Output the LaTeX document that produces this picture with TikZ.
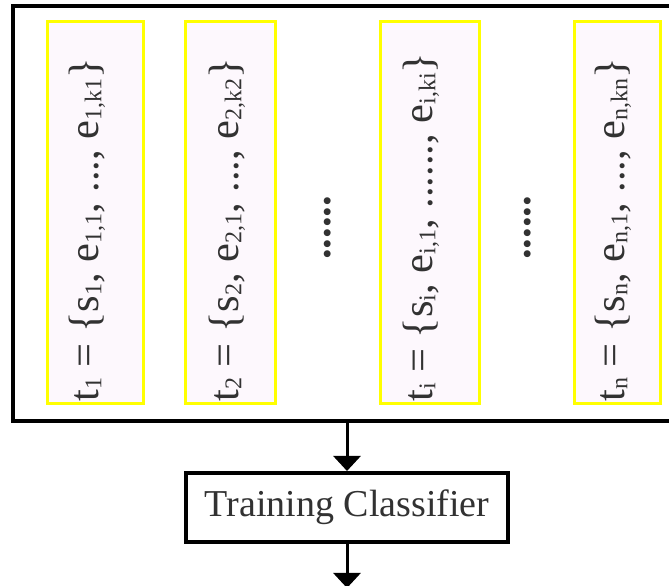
\documentclass[tikz,border=0pt]{standalone}
\usepackage{fontspec}
\setmainfont{Liberation Serif}
\usetikzlibrary{arrows.meta}
\definecolor{seqfill}{RGB}{253,248,253}
\definecolor{seqline}{RGB}{255,255,0}
\definecolor{txtgray}{RGB}{50,50,50}
\newcommand\subs[1]{\raisebox{-0.08em}{\fontsize{24}{24}\selectfont #1}}
\newcommand\bigfont{\fontsize{42.5}{50}\selectfont}

\begin{document}
\begin{tikzpicture}
[x=1pt,y=1pt,
 seq/.style={draw=seqline,line width=3pt,fill=seqfill,minimum height=382pt},
 seqtext/.style={rotate=90,anchor=base west,inner sep=0pt,text=txtgray,font=\bigfont},
 arr/.style={line width=3pt,-{Triangle[width=27pt,length=15pt]}}]
\fill[white] (0,0) rectangle (669,586);
\useasboundingbox (0,0) rectangle (669,586);
\node[draw,line width=4pt,minimum width=659pt,minimum height=415pt] (all) at (342.5,372.5) {};
\node[seq,minimum width=96pt] (b1) at (95,373) {};
\node[seq,minimum width=90pt] (b2) at (230,373) {};
\node[seq,minimum width=99pt] (bi) at (429.5,373) {};
\node[seq,minimum width=86pt] (bn) at (617.5,373) {};
\node[seqtext] (t1) at (98,184) {t\subs{1} = \{s\subs{1}, e\subs{1,1}, ..., e\subs{1,k1}\}};
\node[seqtext] (t2) at (238,184) {t\subs{2} = \{s\subs{2}, e\subs{2,1}, ..., e\subs{2,k2}\}};
\node[seqtext] (ti) at (432,184) {t\subs{i} = \{s\subs{i}, e\subs{i,1}, ......, e\subs{i,ki}\}};
\node[seqtext] (tn) at (624,184) {t\subs{n} = \{s\subs{n}, e\subs{n,1}, ..., e\subs{n,kn}\}};
\node[seqtext,anchor=center,font=\bigfont\bfseries] (d1) at (328,358) {......};
\node[seqtext,anchor=center,font=\bigfont\bfseries] (d2) at (528,358) {......};
\node[draw,line width=4pt,minimum width=322pt,minimum height=69pt,text=txtgray,
  font=\fontsize{38}{45}\selectfont] (tc) at (347,78.5) {Training Classifier};
\coordinate (out) at (347,-2);
\draw[arr] (all.south -| tc.north) -- (tc.north);
\draw[arr] (tc.south) -- (out);
\end{tikzpicture}
\end{document}
